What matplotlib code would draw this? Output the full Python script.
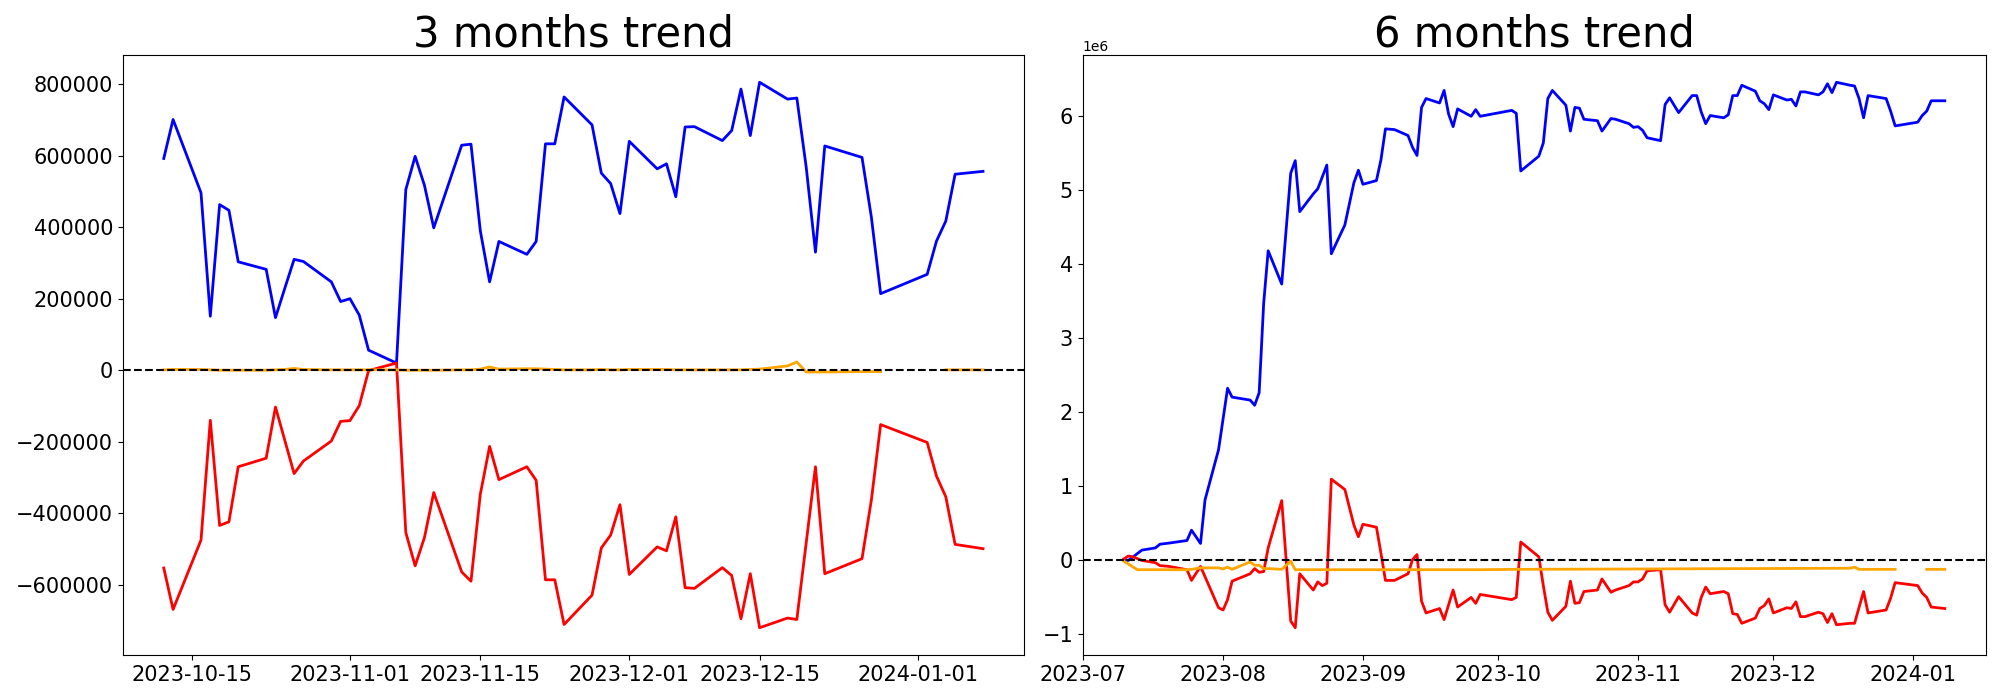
import numpy as np
import pandas as pd
import matplotlib
matplotlib.use("Agg")
import matplotlib.pyplot as plt

# ---------------- 3 months panel (values in thousands) ----------------
dates_3m = ['2023-10-12', '2023-10-13', '2023-10-16', '2023-10-17', '2023-10-18', '2023-10-19',
            '2023-10-20', '2023-10-23', '2023-10-24', '2023-10-25', '2023-10-26', '2023-10-27',
            '2023-10-30', '2023-10-31',
            '2023-11-01', '2023-11-02', '2023-11-03', '2023-11-06', '2023-11-07', '2023-11-08',
            '2023-11-09', '2023-11-10', '2023-11-13', '2023-11-14', '2023-11-15', '2023-11-16',
            '2023-11-17', '2023-11-20', '2023-11-21', '2023-11-22', '2023-11-23', '2023-11-24',
            '2023-11-27', '2023-11-28', '2023-11-29', '2023-11-30',
            '2023-12-01', '2023-12-04', '2023-12-05', '2023-12-06', '2023-12-07', '2023-12-08',
            '2023-12-11', '2023-12-12', '2023-12-13', '2023-12-14', '2023-12-15', '2023-12-18',
            '2023-12-19', '2023-12-20', '2023-12-21', '2023-12-22', '2023-12-26', '2023-12-27',
            '2023-12-28',
            '2024-01-02', '2024-01-03', '2024-01-04', '2024-01-05', '2024-01-08']

blue_3m_k = [592, 701, 496, 151, 463, 447, 303, 282, 147, 229, 310, 304, 247, 192,
             200, 154, 56, 20, 505, 598, 517, 398, 629, 632, 390, 247, 360, 324, 360, 633, 633, 764,
             686, 551, 522, 438,
             640, 563, 577, 485, 680, 681, 642, 670, 786, 656, 805, 758, 761, 569, 330, 627, 595, 429, 214,
             268, 361, 417, 548, 556]

red_3m_k = [-553, -669, -475, -140, -434, -424, -270, -246, -103, -196, -289, -254, -198, -143,
            -141, -99, -1, 20, -454, -547, -468, -342, -564, -590, -347, -213, -306, -270, -308, -586,
            -586, -711, -629, -497, -461, -376,
            -571, -494, -505, -410, -608, -610, -552, -574, -695, -569, -720, -693, -697, -484, -270,
            -569, -527, -364, -152,
            -202, -296, -354, -487, -499]

orange_3m_k = [1, 2, 2, 1, 0, 0, 0, 0, 1, 2, 5, 2, 1, 1,
               1, 1, 1, 1, 0, 0, 0, 0, 1, 1, 3, 9, 3, 4, 4, 3, 2, 1, 1, 2, 1, 1,
               2, 2, 2, 1, 1, 1, 1, 1, 1, 2, 3, 12, 23, -5, -5, -5, -4, -4, -4,
               np.nan, np.nan, 1, 1, 1]

# ---------------- 6 months panel (values in millions) ----------------
blue_6m_dates = ['2023-07-10', '2023-07-11', '2023-07-14', '2023-07-17', '2023-07-18', '2023-07-20',
                 '2023-07-24', '2023-07-25', '2023-07-27', '2023-07-28', '2023-07-31',
                 '2023-08-02', '2023-08-03', '2023-08-07', '2023-08-08', '2023-08-09', '2023-08-10',
                 '2023-08-11', '2023-08-14', '2023-08-16', '2023-08-17', '2023-08-18', '2023-08-21',
                 '2023-08-22', '2023-08-24', '2023-08-25', '2023-08-28', '2023-08-30', '2023-08-31',
                 '2023-09-01', '2023-09-04', '2023-09-05', '2023-09-06', '2023-09-08', '2023-09-11',
                 '2023-09-12', '2023-09-13', '2023-09-14', '2023-09-15', '2023-09-18', '2023-09-19',
                 '2023-09-20', '2023-09-21', '2023-09-22', '2023-09-25', '2023-09-26', '2023-09-27',
                 '2023-10-04', '2023-10-05', '2023-10-06', '2023-10-10', '2023-10-11', '2023-10-12',
                 '2023-10-13', '2023-10-16', '2023-10-17', '2023-10-18', '2023-10-19', '2023-10-20',
                 '2023-10-23', '2023-10-24', '2023-10-26', '2023-10-27', '2023-10-30', '2023-10-31',
                 '2023-11-01', '2023-11-02', '2023-11-03', '2023-11-06', '2023-11-07', '2023-11-08',
                 '2023-11-10', '2023-11-13', '2023-11-14', '2023-11-15', '2023-11-16', '2023-11-17',
                 '2023-11-20', '2023-11-21', '2023-11-22', '2023-11-23', '2023-11-24', '2023-11-27',
                 '2023-11-28', '2023-11-29', '2023-11-30', '2023-12-01', '2023-12-04', '2023-12-05',
                 '2023-12-06', '2023-12-07', '2023-12-08', '2023-12-11', '2023-12-12', '2023-12-13',
                 '2023-12-14', '2023-12-15', '2023-12-18', '2023-12-19', '2023-12-20', '2023-12-21',
                 '2023-12-22', '2023-12-26', '2023-12-27', '2023-12-28', '2024-01-02', '2024-01-03',
                 '2024-01-04', '2024-01-05', '2024-01-08']
blue_6m_m = [0.00, -0.01, 0.13, 0.16, 0.21, 0.225, 0.26, 0.40, 0.22, 0.81, 1.49,
             2.32, 2.20, 2.16, 2.09, 2.26, 3.47,
             4.18, 3.73, 5.23, 5.40, 4.71, 4.95,
             5.02, 5.34, 4.14, 4.53, 5.10, 5.27,
             5.08, 5.13, 5.41, 5.83, 5.82, 5.74,
             5.58, 5.47, 6.12, 6.24, 6.18, 6.35,
             6.03, 5.86, 6.10, 6.00, 6.09, 6.00,
             6.08, 6.04, 5.26, 5.46, 5.64, 6.24,
             6.35, 6.15, 5.80, 6.12, 6.11, 5.96,
             5.94, 5.80, 5.97, 5.96, 5.90, 5.85,
             5.86, 5.81, 5.71, 5.67, 6.16, 6.25,
             6.05, 6.28, 6.28, 6.06, 5.90, 6.01,
             5.98, 6.02, 6.28, 6.28, 6.42, 6.34,
             6.21, 6.17, 6.09, 6.29, 6.22, 6.23,
             6.14, 6.33, 6.33, 6.29, 6.33, 6.44,
             6.32, 6.46, 6.42, 6.41, 6.24, 5.98,
             6.28, 6.24, 6.07, 5.87, 5.92, 6.01,
             6.07, 6.21, 6.21]

red_6m_dates = ['2023-07-10', '2023-07-11', '2023-07-12', '2023-07-14', '2023-07-17', '2023-07-18',
                '2023-07-20', '2023-07-24', '2023-07-25', '2023-07-27', '2023-07-31',
                '2023-08-01', '2023-08-02', '2023-08-03', '2023-08-07', '2023-08-08', '2023-08-09',
                '2023-08-10', '2023-08-11', '2023-08-14', '2023-08-16', '2023-08-17', '2023-08-18',
                '2023-08-21', '2023-08-22', '2023-08-23', '2023-08-24', '2023-08-25', '2023-08-28',
                '2023-08-30', '2023-08-31', '2023-09-01', '2023-09-04', '2023-09-05', '2023-09-06',
                '2023-09-08', '2023-09-11', '2023-09-12', '2023-09-13', '2023-09-14', '2023-09-15',
                '2023-09-18', '2023-09-19', '2023-09-21', '2023-09-22', '2023-09-25', '2023-09-26',
                '2023-09-27', '2023-10-04', '2023-10-05', '2023-10-06', '2023-10-10', '2023-10-11',
                '2023-10-12', '2023-10-13', '2023-10-16', '2023-10-17', '2023-10-18', '2023-10-19',
                '2023-10-20', '2023-10-23', '2023-10-24', '2023-10-26', '2023-10-27', '2023-10-30',
                '2023-10-31', '2023-11-01', '2023-11-02', '2023-11-03', '2023-11-06', '2023-11-07',
                '2023-11-08', '2023-11-10', '2023-11-13', '2023-11-14', '2023-11-15', '2023-11-16',
                '2023-11-17', '2023-11-20', '2023-11-21', '2023-11-22', '2023-11-23', '2023-11-24',
                '2023-11-27', '2023-11-28', '2023-11-29', '2023-11-30', '2023-12-01', '2023-12-04',
                '2023-12-05', '2023-12-06', '2023-12-07', '2023-12-08', '2023-12-11', '2023-12-12',
                '2023-12-13', '2023-12-14', '2023-12-15', '2023-12-18', '2023-12-19', '2023-12-21',
                '2023-12-22', '2023-12-26', '2023-12-27', '2023-12-28', '2024-01-02', '2024-01-03',
                '2024-01-04', '2024-01-05', '2024-01-08']
red_6m_m = [0.01, 0.05, 0.04, -0.01, -0.04, -0.08,
            -0.09, -0.135, -0.28, -0.09, -0.65,
            -0.68, -0.54, -0.29, -0.19, -0.12, -0.17,
            -0.16, 0.16, 0.80, -0.83, -0.92, -0.19,
            -0.41, -0.30, -0.35, -0.32, 1.09, 0.95,
            0.47, 0.31, 0.48, 0.44, 0.09, -0.28,
            -0.28, -0.19, 0.00, 0.07, -0.56, -0.72,
            -0.66, -0.81, -0.41, -0.64, -0.51, -0.59,
            -0.47, -0.54, -0.51, 0.24, 0.04, -0.35,
            -0.71, -0.82, -0.63, -0.29, -0.59, -0.58,
            -0.43, -0.41, -0.26, -0.44, -0.41, -0.35,
            -0.30, -0.30, -0.26, -0.15, -0.135, -0.61,
            -0.71, -0.50, -0.72, -0.75, -0.51, -0.37,
            -0.46, -0.43, -0.46, -0.73, -0.74, -0.86,
            -0.79, -0.66, -0.62, -0.53, -0.72, -0.65,
            -0.66, -0.57, -0.77, -0.77, -0.71, -0.73,
            -0.85, -0.73, -0.88, -0.86, -0.86, -0.43,
            -0.72, -0.68, -0.52, -0.31, -0.35, -0.45,
            -0.51, -0.64, -0.66]

orange_6m_dates = ['2023-07-10', '2023-07-13', '2023-07-24', '2023-07-25', '2023-07-27', '2023-07-31',
                   '2023-08-01', '2023-08-02', '2023-08-03', '2023-08-07', '2023-08-08', '2023-08-09',
                   '2023-08-10', '2023-08-11', '2023-08-14', '2023-08-16', '2023-08-17', '2023-09-27',
                   '2023-10-06', '2023-11-03', '2023-12-18', '2023-12-19', '2023-12-20', '2023-12-28',
                   '2024-01-02', '2024-01-03', '2024-01-04', '2024-01-08']
orange_6m_m = [-0.02, -0.135, -0.135, -0.13, -0.11, -0.11,
               -0.125, -0.10, -0.13, -0.03, -0.075, -0.075,
               -0.12, -0.12, -0.13, -0.02, -0.135, -0.135,
               -0.13, -0.125, -0.115, -0.10, -0.13, -0.13,
               np.nan, np.nan, -0.13, -0.13]

# ---------------- figure ----------------
fig = plt.figure(figsize=(20, 7), dpi=100)
ax1 = fig.add_axes([0.0614, 0.0643, 0.4506, 0.8571])
ax2 = fig.add_axes([0.5414, 0.0643, 0.4515, 0.8571])

d3 = pd.to_datetime(dates_3m)
ax1.plot(d3, np.array(blue_3m_k) * 1000, color='blue', lw=2)
ax1.plot(d3, np.array(red_3m_k) * 1000, color='red', lw=2)
ax1.plot(d3, np.array(orange_3m_k, dtype=float) * 1000, color='orange', lw=2)
ax1.axhline(0, color='black', linestyle='--', lw=1.5)
ax1.set_title('3 months trend', fontsize=30)

ax2.plot(pd.to_datetime(blue_6m_dates), np.array(blue_6m_m) * 1e6, color='blue', lw=2)
ax2.plot(pd.to_datetime(red_6m_dates), np.array(red_6m_m) * 1e6, color='red', lw=2)
ax2.plot(pd.to_datetime(orange_6m_dates), np.array(orange_6m_m, dtype=float) * 1e6, color='orange', lw=2)
ax2.axhline(0, color='black', linestyle='--', lw=1.5)
ax2.set_title('6 months trend', fontsize=30)

for ax in (ax1, ax2):
    ax.tick_params(labelsize=15)

fig.savefig('out.png', dpi=100)
